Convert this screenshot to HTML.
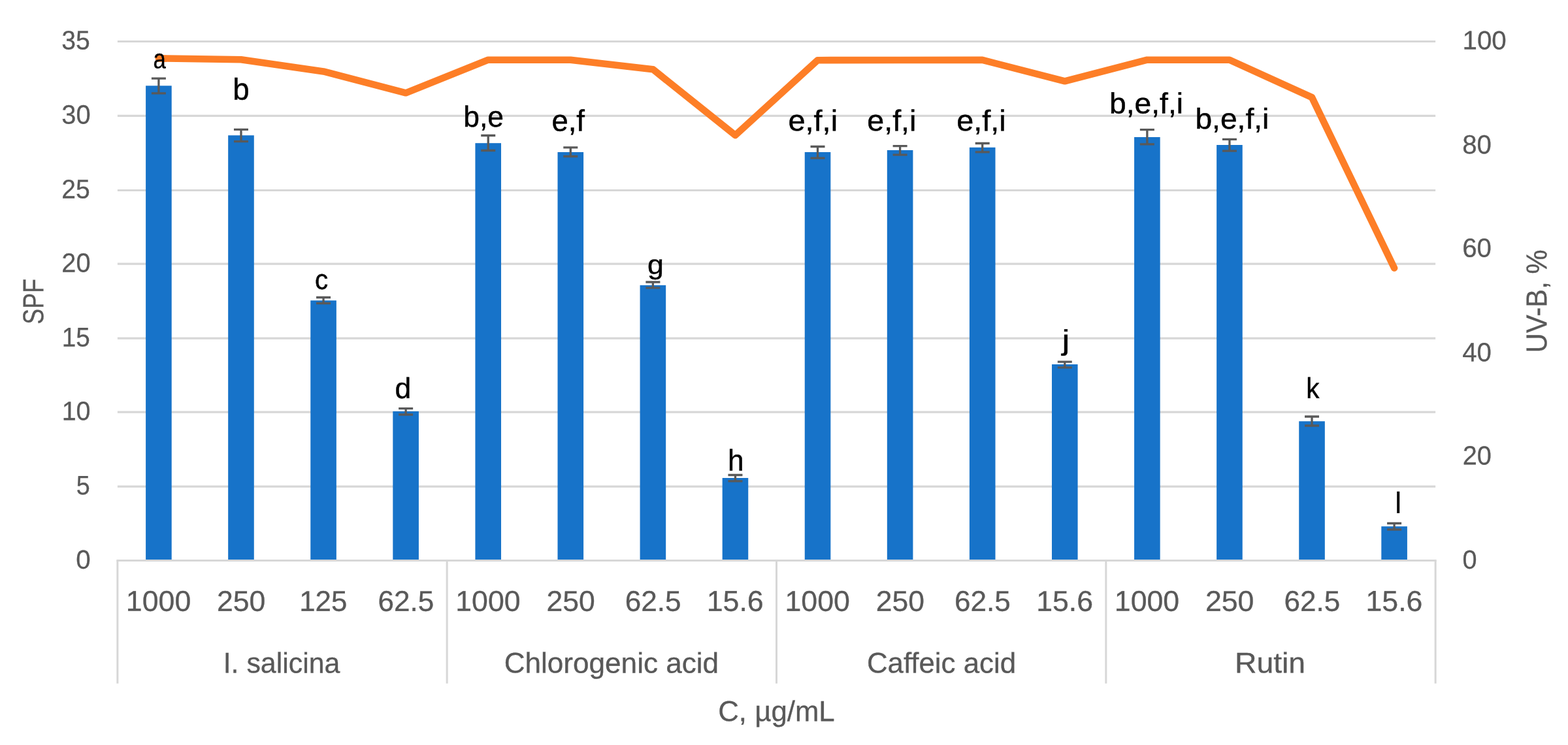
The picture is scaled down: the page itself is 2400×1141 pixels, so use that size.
<!DOCTYPE html>
<html lang="en">
<head>
<meta charset="utf-8">
<title>SPF and UV-B chart</title>
<style>
html,body{margin:0;padding:0;background:#fff;}
body{width:2400px;height:1141px;overflow:hidden;}
svg{display:block;}
text{font-family:"Liberation Sans",sans-serif;font-size:40px;text-rendering:geometricPrecision;}
.ax{fill:#595959;stroke:#595959;stroke-width:0.3px;}
.dl{fill:#000;stroke:#000;stroke-width:0.4px;}
</style>
</head>
<body>
<svg width="2400" height="1141" viewBox="0 0 2400 1141">
<rect width="2400" height="1141" fill="#fff"/>
<g stroke="#d7d7d7" stroke-width="3.2" fill="none">
<line x1="179.86" y1="745.05" x2="2197.14" y2="745.05"/>
<line x1="179.86" y1="631.05" x2="2197.14" y2="631.05"/>
<line x1="179.86" y1="518.10" x2="2197.14" y2="518.10"/>
<line x1="179.86" y1="404.10" x2="2197.14" y2="404.10"/>
<line x1="179.86" y1="291.50" x2="2197.14" y2="291.50"/>
<line x1="179.86" y1="177.45" x2="2197.14" y2="177.45"/>
<line x1="179.86" y1="63.50" x2="2197.14" y2="63.50"/>
</g>
<g fill="#1773c9">
<rect x="223.10" y="131.30" width="39.6" height="727.20"/>
<rect x="349.18" y="207.30" width="39.6" height="651.20"/>
<rect x="475.26" y="460.20" width="39.6" height="398.30"/>
<rect x="601.34" y="630.00" width="39.6" height="228.50"/>
<rect x="727.42" y="219.20" width="39.6" height="639.30"/>
<rect x="853.50" y="233.00" width="39.6" height="625.50"/>
<rect x="979.58" y="436.80" width="39.6" height="421.70"/>
<rect x="1105.66" y="732.00" width="39.6" height="126.50"/>
<rect x="1231.74" y="233.00" width="39.6" height="625.50"/>
<rect x="1357.82" y="230.00" width="39.6" height="628.50"/>
<rect x="1483.90" y="225.80" width="39.6" height="632.70"/>
<rect x="1609.98" y="558.00" width="39.6" height="300.50"/>
<rect x="1736.06" y="210.00" width="39.6" height="648.50"/>
<rect x="1862.14" y="222.00" width="39.6" height="636.50"/>
<rect x="1988.22" y="645.20" width="39.6" height="213.30"/>
<rect x="2114.30" y="806.20" width="39.6" height="52.30"/>
</g>
<g stroke="#d7d7d7" stroke-width="3" fill="none">
<line x1="178.36" y1="858.50" x2="2198.64" y2="858.50"/>
<line x1="179.86" y1="858.5" x2="179.86" y2="1046.8"/>
<line x1="684.18" y1="858.5" x2="684.18" y2="1046.8"/>
<line x1="1188.50" y1="858.5" x2="1188.50" y2="1046.8"/>
<line x1="1692.82" y1="858.5" x2="1692.82" y2="1046.8"/>
<line x1="2197.14" y1="858.5" x2="2197.14" y2="1046.8"/>
</g>
<g stroke="#595959" stroke-width="3.3" fill="none">
<path d="M231.90 120.20H253.90M231.90 142.90H253.90M242.90 120.20V142.90"/>
<path d="M357.98 198.30H379.98M357.98 216.70H379.98M368.98 198.30V216.70"/>
<path d="M484.06 455.50H506.06M484.06 464.50H506.06M495.06 455.50V464.50"/>
<path d="M610.14 625.70H632.14M610.14 635.00H632.14M621.14 625.70V635.00"/>
<path d="M736.22 207.50H758.22M736.22 230.50H758.22M747.22 207.50V230.50"/>
<path d="M862.30 225.90H884.30M862.30 239.50H884.30M873.30 225.90V239.50"/>
<path d="M988.38 432.00H1010.38M988.38 440.80H1010.38M999.38 432.00V440.80"/>
<path d="M1114.46 727.50H1136.46M1114.46 736.80H1136.46M1125.46 727.50V736.80"/>
<path d="M1240.54 224.50H1262.54M1240.54 242.20H1262.54M1251.54 224.50V242.20"/>
<path d="M1366.62 223.70H1388.62M1366.62 237.20H1388.62M1377.62 223.70V237.20"/>
<path d="M1492.70 219.50H1514.70M1492.70 232.80H1514.70M1503.70 219.50V232.80"/>
<path d="M1618.78 554.20H1640.78M1618.78 562.80H1640.78M1629.78 554.20V562.80"/>
<path d="M1744.86 198.70H1766.86M1744.86 220.80H1766.86M1755.86 198.70V220.80"/>
<path d="M1870.94 213.30H1892.94M1870.94 231.20H1892.94M1881.94 213.30V231.20"/>
<path d="M1997.02 638.00H2019.02M1997.02 652.00H2019.02M2008.02 638.00V652.00"/>
<path d="M2123.10 801.50H2145.10M2123.10 811.00H2145.10M2134.10 801.50V811.00"/>
</g>
<polyline points="242.90,89.40 368.98,91.20 495.06,109.40 621.14,142.30 747.22,91.70 873.30,91.70 999.38,106.20 1125.46,207.10 1251.54,92.20 1377.62,92.00 1503.70,91.90 1629.78,124.30 1755.86,91.70 1881.94,91.70 2008.02,149.10 2134.10,410.50" fill="none" stroke="#fd7e27" stroke-width="10.6" stroke-linejoin="round" stroke-linecap="round"/>
<g class="ax">
<text transform="translate(116.33 870.71) rotate(0.05) scale(1.0081 1.0083)">0</text>
<text transform="translate(116.73 757.32) rotate(0.05) scale(0.9428 1.0254)">5</text>
<text transform="translate(94.63 643.29) rotate(0.05) scale(0.9863 1.0095)">10</text>
<text transform="translate(94.71 530.60) rotate(0.05) scale(0.9675 1.0341)">15</text>
<text transform="translate(94.37 416.38) rotate(0.05) scale(0.9945 1.0202)">20</text>
<text transform="translate(94.33 303.38) rotate(0.05) scale(0.9770 1.0154)">25</text>
<text transform="translate(94.30 189.38) rotate(0.05) scale(0.9957 1.0203)">30</text>
<text transform="translate(94.33 75.60) rotate(0.05) scale(0.9774 1.0153)">35</text>
<text transform="translate(2238.39 870.85) rotate(0.05) scale(0.9913 1.0016)">0</text>
<text transform="translate(2238.71 711.37) rotate(0.05) scale(0.9944 1.0084)">20</text>
<text transform="translate(2238.23 553.29) rotate(0.05) scale(1.0043 1.0088)">40</text>
<text transform="translate(2238.29 393.58) rotate(0.05) scale(1.0038 1.0154)">60</text>
<text transform="translate(2238.21 235.25) rotate(0.05) scale(1.0052 1.0145)">80</text>
<text transform="translate(2238.51 75.36) rotate(0.05) scale(1.0080 0.9996)">100</text>
<text transform="translate(192.86 935.61) rotate(0.05) scale(1.1171 1.1024)">1000</text>
<text transform="translate(331.97 935.67) rotate(0.05) scale(1.1156 1.1030)">250</text>
<text transform="translate(458.22 935.66) rotate(0.05) scale(1.0968 1.1028)">125</text>
<text transform="translate(578.52 935.66) rotate(0.05) scale(1.1025 1.1027)">62.5</text>
<text transform="translate(697.28 935.62) rotate(0.05) scale(1.1159 1.1037)">1000</text>
<text transform="translate(836.40 935.66) rotate(0.05) scale(1.1129 1.1028)">250</text>
<text transform="translate(956.73 935.76) rotate(0.05) scale(1.1036 1.1012)">62.5</text>
<text transform="translate(1081.64 935.72) rotate(0.05) scale(1.1187 1.1083)">15.6</text>
<text transform="translate(1201.52 935.70) rotate(0.05) scale(1.1168 1.1004)">1000</text>
<text transform="translate(1340.84 935.76) rotate(0.05) scale(1.1101 1.1014)">250</text>
<text transform="translate(1461.01 935.66) rotate(0.05) scale(1.1025 1.1029)">62.5</text>
<text transform="translate(1586.17 935.66) rotate(0.05) scale(1.1165 1.1037)">15.6</text>
<text transform="translate(1705.78 935.61) rotate(0.05) scale(1.1171 1.1024)">1000</text>
<text transform="translate(1844.90 935.67) rotate(0.05) scale(1.1172 1.1030)">250</text>
<text transform="translate(1965.43 935.66) rotate(0.05) scale(1.1025 1.1028)">62.5</text>
<text transform="translate(2090.53 935.61) rotate(0.05) scale(1.1158 1.1057)">15.6</text>
<text transform="translate(341.63 1030.30) rotate(0.05) scale(1.0724 1.1000)">I. salicina</text>
<text transform="translate(771.70 1030.30) rotate(0.05) scale(1.1022 1.1000)">Chlorogenic acid</text>
<text transform="translate(1326.91 1030.30) rotate(0.05) scale(1.0957 1.1000)">Caffeic acid</text>
<text transform="translate(1889.98 1030.30) rotate(0.05) scale(1.1579 1.1000)">Rutin</text>
<text transform="translate(1099.21 1104.20) rotate(0.05) scale(1.0946 1.1000)">C, µg/mL</text>
<text transform="translate(66.20 496.82) rotate(-90.05) scale(0.9005 1.1075)">SPF</text>
<text transform="translate(2367.30 540.24) rotate(-90.05) scale(1.0437 1.1125)">UV-B, %</text>
</g>
<g class="dl">
<text transform="translate(234.60 104.46) rotate(0.05) scale(0.8682 1.0437)">a</text>
<text transform="translate(356.16 152.59) rotate(0.05) scale(1.1407 1.1573)">b</text>
<text transform="translate(482.04 442.71) rotate(0.05) scale(1.0077 1.0671)">c</text>
<text transform="translate(604.44 609.80) rotate(0.05) scale(1.1095 1.1062)">d</text>
<text transform="translate(709.27 193.90) rotate(0.05) scale(1.1096 1.1191)">b,e</text>
<text transform="translate(844.46 200.40) rotate(0.05) scale(1.1356 1.1511)">e,f</text>
<text transform="translate(990.91 419.59) rotate(0.05) scale(1.1192 1.0401)">g</text>
<text transform="translate(1114.05 720.69) rotate(0.05) scale(1.1042 1.1368)">h</text>
<text transform="translate(1206.40 200.10) rotate(0.05) scale(1.1741 1.1271)">e,f,i</text>
<text transform="translate(1327.28 200.10) rotate(0.05) scale(1.1655 1.1290)">e,f,i</text>
<text transform="translate(1464.32 200.10) rotate(0.05) scale(1.1687 1.1273)">e,f,i</text>
<text transform="translate(1625.42 535.72) rotate(0.05) scale(1.3392 1.0887)">j</text>
<text transform="translate(1698.00 173.50) rotate(0.05) scale(1.1557 1.1103)">b,e,f,i</text>
<text transform="translate(1829.41 196.90) rotate(0.05) scale(1.1538 1.1067)">b,e,f,i</text>
<text transform="translate(1999.28 609.69) rotate(0.05) scale(1.0074 1.1026)">k</text>
<text transform="translate(2135.60 785.85) rotate(0.05) scale(1.0429 1.1309)">l</text>
</g>
</svg>
</body>
</html>
